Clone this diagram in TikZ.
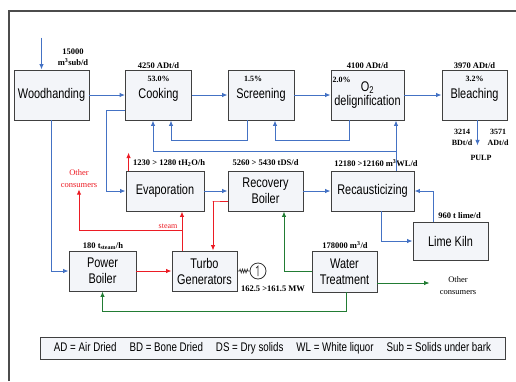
\documentclass[tikz,border=0pt]{standalone}
\usepackage{fontspec}
\usepackage{tikz}
\usetikzlibrary{calc}
\usetikzlibrary{arrows.meta}
\usetikzlibrary{decorations.pathmorphing}
\newfontfamily\unitfont[FakeStretch=0.78]{Liberation Sans}
\newfontfamily\figfont{Liberation Serif}
\definecolor{flowblue}{RGB}{68,114,196}
\definecolor{steamred}{RGB}{236,28,36}
\definecolor{watergreen}{RGB}{34,124,52}
\definecolor{unitfill}{RGB}{243,245,249}
\newcommand{\legendgap}{\hspace{13pt}}
\tikzset{unit/.style={draw=#1,fill=unitfill,line width=0.9pt,inner sep=1pt,align=center,font=\unitfont\fontsize{14}{15}\selectfont},unit/.default=black!75}
\tikzset{flow/.style={color=#1,line width=1pt,-{Latex[length=5.5pt,width=4.5pt]}},flow/.default=flowblue}
\tikzset{figure/.style={color=#1,inner sep=1pt,align=center,font=\figfont\bfseries\fontsize{8.5}{10.5}\selectfont},figure/.default=black}
\tikzset{note/.style={color=#1,inner sep=1pt,align=center,font=\figfont\fontsize{8.5}{12}\selectfont},note/.default=black}

\begin{document}
\begin{tikzpicture}[x=1pt,y=-1pt]
	\useasboundingbox (0,0) rectangle (516,381);
	\draw [black!70,line width=1.2pt] (9,381) -- (9,11) -- (516,11);

	% fibre line
	\node [unit,minimum width=75pt,minimum height=50pt] (wood) at (51.5,95) {Woodhanding};
	\node [unit,minimum width=66pt,minimum height=50pt] (cook) at (158.5,95) {Cooking};
	\node [unit,minimum width=66pt,minimum height=50pt] (screen) at (261,95) {Screening};
	\node [unit,minimum width=73pt,minimum height=50pt] (oxy) at (367.5,95) {O\textsubscript{2}\\[-1pt]delignification};
	\node [unit,minimum width=65pt,minimum height=50pt] (bleach) at (474.5,95) {Bleaching};

	% recovery line
	\node [unit,minimum width=78pt,minimum height=40pt] (evap) at (165,191) {Evaporation};
	\node [unit,minimum width=75pt,minimum height=40pt] (recov) at (265.5,191) {Recovery\\[1pt]Boiler};
	\node [unit,minimum width=83pt,minimum height=40pt] (recaus) at (372.5,191) {Recausticizing};
	\node [unit,minimum width=75pt,minimum height=38pt] (kiln) at (450.5,241) {Lime Kiln};

	% energy and water
	\node [unit,minimum width=67pt,minimum height=40pt] (power) at (102.5,271) {Power\\[1pt]Boiler};
	\node [unit,minimum width=65pt,minimum height=40pt] (turbo) at (204.5,271) {Turbo\\[1pt]Generators};
	\node [unit,minimum width=65pt,minimum height=41pt] (water) at (344.5,271.5) {Water\\[1pt]Treatment};
	\node [draw=black!80,circle,minimum size=16pt,inner sep=0pt,line width=0.8pt] (gen) at (258,271) {};

	\node [unit,minimum width=465pt,minimum height=22pt,line width=1pt,font=\unitfont\fontsize{12.5}{14}\selectfont] (legend) at (272.5,348)
		{AD = Air Dried\legendgap BD = Bone Dried\legendgap DS = Dry solids\legendgap WL = White liquor\legendgap Sub = Solids under bark};

	% figures
	\node [figure] (woodrate) at (73,57) {15000\\m\textsuperscript{3}sub/d};
	\node [figure,anchor=south] (cookrate) at (cook.north) {4250 ADt/d};
	\node [figure,anchor=south] (oxyrate) at (oxy.north) {4100 ADt/d};
	\node [figure,anchor=south] (bleachrate) at (bleach.north) {3970 ADt/d};
	\node [figure,font=\figfont\bfseries\fontsize{8}{10}\selectfont] (cookpct) at ($(cook.north)+(0,9)$) {53.0\%};
	\node [figure,font=\figfont\bfseries\fontsize{8}{10}\selectfont] (screenpct) at ($(screen.north)+(-8,9)$) {1.5\%};
	\node [figure,font=\figfont\bfseries\fontsize{8}{10}\selectfont] (oxypct) at ($(oxy.north west)+(11,10)$) {2.0\%};
	\node [figure,font=\figfont\bfseries\fontsize{8}{10}\selectfont] (bleachpct) at ($(bleach.north)+(0,9)$) {3.2\%};
	\node [figure,font=\figfont\bfseries\fontsize{8}{11}\selectfont] (pulpbd) at (462,137) {3214\\BDt/d};
	\node [figure,font=\figfont\bfseries\fontsize{8}{11}\selectfont] (pulpad) at (498,137) {3571\\ADt/d};
	\node [figure,font=\figfont\bfseries\fontsize{8}{10}\selectfont] (pulp) at (481,158) {PULP};
	\node [figure,anchor=west] (evaprate) at (132,163) {1230 > 1280 tH\textsubscript{2}O/h};
	\node [figure] (recovrate) at (265.5,163) {5260 > 5430 tDS/d};
	\node [figure] (recausrate) at (376,163) {12180 >12160 m\textsuperscript{3}WL/d};
	\node [figure] (kilnrate) at (459.5,216) {960 t lime/d};
	\node [figure] (powerrate) at (103,246) {180 t\textsubscript{steam}/h};
	\node [figure] (waterrate) at (345,245) {178000 m\textsuperscript{3}/d};
	\node [figure] (genrate) at (273,289) {162.5 >161.5 MW};
	\node [note=steamred] (othersteam) at (79,179) {Other\\consumers};
	\node [note=steamred,font=\figfont\fontsize{8}{10}\selectfont] (steamtext) at (168,226) {steam};
	\node [note] (otherwater) at (458,286) {Other\\consumers};

	% blue flows
	\draw [flow] ($(wood.north)+(-10,-32)$) -- ($(wood.north)+(-10,0)$);
	\draw [flow] (wood) -- (cook);
	\draw [flow] (cook) -- (screen);
	\draw [flow] (screen) -- (oxy);
	\draw [flow] (oxy) -- (bleach);
	\draw [flow] ([xshift=3pt]bleach.south) -- ++(0,25);
	\draw [flow] ([xshift=-14pt]screen.south) -- ++(0,20) -| ([xshift=12.5pt]cook.south);
	\draw [flow] ([xshift=-18.5pt]oxy.south) -- ++(0,20) -| ([xshift=14pt]screen.south);
	\draw [flow] ([xshift=23.5pt]recaus.north) -- ([xshift=23.5pt]recaus.north |- oxy.south);
	\coordinate (wlsplit) at ($(recaus.north)+(23.5,-19)$);
	\draw [flow] (wlsplit) -| ([xshift=-5.5pt]cook.south);
	\draw [flow] ($(cook.west)+(0,15)$) -- ++(-19,0) |- (evap.west);
	\draw [flow] (wood.south) |- (power.west);
	\draw [flow] (evap) -- (recov);
	\draw [flow] (recov) -- (recaus);
	\draw [flow] ([xshift=8.5pt]recaus.south) |- (kiln.west);
	\draw [flow] ([xshift=-17.5pt]kiln.north) |- (recaus.east);

	% red flows
	\draw [flow=steamred] ($(evap.north west)+(3,0)$) -- ++(0,-18);
	\draw [flow=steamred] ([xshift=-22.5pt]turbo.north) -- ([xshift=-22.5pt]turbo.north |- evap.south);
	\coordinate (steamsplit) at ($(turbo.north)+(-22.5,-20)$);
	\draw [flow=steamred] (steamsplit) -| (othersteam.south);
	\draw [flow=steamred] ($(recov.west)+(0,10)$) -- ++(-15,0) -| ([xshift=8.5pt]turbo.north);
	\draw [flow=steamred] (power) -- (turbo);

	% generator
	\draw [black!80,line width=0.7pt,decorate,decoration={zigzag,segment length=2.4pt,amplitude=1.8pt,pre length=2pt,post length=1pt}] (turbo.east) -- (gen.west);
	\draw [black!80,line width=0.7pt] ($(gen)+(-2,-3)$) -- ($(gen)+(0,-5)$) -- ($(gen)+(0,5)$);

	% green flows
	\draw [flow=watergreen] (water.west) -| ([xshift=18.5pt]recov.south);
	\draw [flow=watergreen] ([xshift=1.5pt]water.south) -- ++(0,19) -| (power.south);
	\coordinate (waterout) at ($(water.east)+(0,11.5)$);
	\draw [flow=watergreen,shorten >=9pt] (waterout) -- (waterout -| otherwater.west);
\end{tikzpicture}
\end{document}
